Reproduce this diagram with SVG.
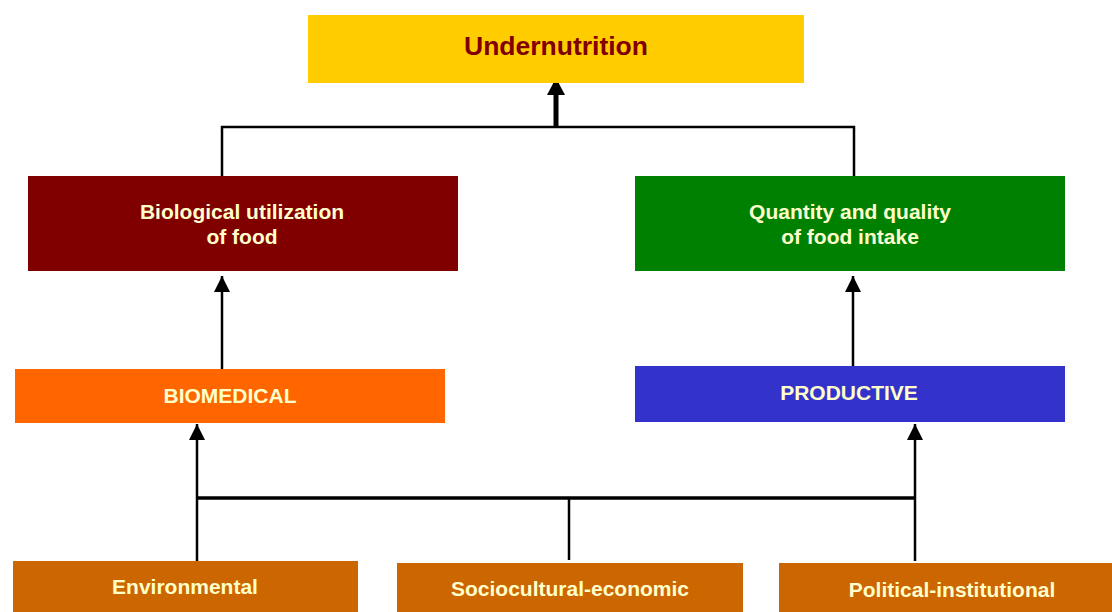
<svg xmlns="http://www.w3.org/2000/svg" width="1112" height="612" viewBox="0 0 1112 612">
<style>
text{font-family:"Liberation Sans",Arial,sans-serif;font-weight:bold;text-anchor:middle}
.lbl{font-size:21px;fill:#FFFFCC}
.ln{stroke:#000;stroke-width:2.5;fill:none}
</style>
<defs>
<marker id="ah" markerUnits="userSpaceOnUse" markerWidth="16" markerHeight="16" viewBox="0 0 16 16" refX="16" refY="8" orient="auto">
<path d="M0,0 L16,8 L0,16 Z" fill="#000"/>
</marker>
<marker id="ahb" markerUnits="userSpaceOnUse" markerWidth="17" markerHeight="18" viewBox="0 0 17 18" refX="17" refY="9" orient="auto">
<path d="M0,0 L17,9 L0,18 Z" fill="#000"/>
</marker>
</defs>
<rect width="1112" height="612" fill="#fff"/>
<g id="connectors">
<path class="ln" d="M222,176 V127 H854 V176"/>
<path d="M556,127 V78" stroke="#000" stroke-width="5" marker-end="url(#ahb)"/>
<path class="ln" d="M222,369 V276" marker-end="url(#ah)"/>
<path class="ln" d="M853,366 V276" marker-end="url(#ah)"/>
<path class="ln" d="M197,561 V424" marker-end="url(#ah)"/>
<path class="ln" d="M915,561 V424" marker-end="url(#ah)"/>
<path d="M197,498 H915" stroke="#000" stroke-width="3.5"/>
<path class="ln" d="M569,498 V560"/>
</g>
<g id="undernutrition">
<rect x="308" y="15" width="496" height="68" fill="#FFCC00"/>
<text x="556" y="55" font-size="26.5" fill="#800000">Undernutrition</text>
</g>
<g id="biological">
<rect x="28" y="176" width="430" height="95" fill="#800000"/>
<text class="lbl" x="242" y="219">Biological utilization</text>
<text class="lbl" x="242" y="244">of food</text>
</g>
<g id="quantity">
<rect x="635" y="176" width="430" height="95" fill="#008000"/>
<text class="lbl" x="850" y="219">Quantity and quality</text>
<text class="lbl" x="850" y="244">of food intake</text>
</g>
<g id="biomedical">
<rect x="15" y="369" width="430" height="54" fill="#FF6600"/>
<text class="lbl" x="230" y="403">BIOMEDICAL</text>
</g>
<g id="productive">
<rect x="635" y="366" width="430" height="56" fill="#3333CC"/>
<text class="lbl" x="849" y="400">PRODUCTIVE</text>
</g>
<g id="environmental">
<rect x="13" y="561" width="345" height="51" fill="#CC6600"/>
<text class="lbl" x="185" y="594">Environmental</text>
</g>
<g id="sociocultural">
<rect x="397" y="563" width="346" height="49" fill="#CC6600"/>
<text class="lbl" x="570" y="596">Sociocultural-economic</text>
</g>
<g id="political">
<rect x="779" y="563" width="333" height="49" fill="#CC6600"/>
<text class="lbl" x="952" y="597">Political-institutional</text>
</g>
</svg>
